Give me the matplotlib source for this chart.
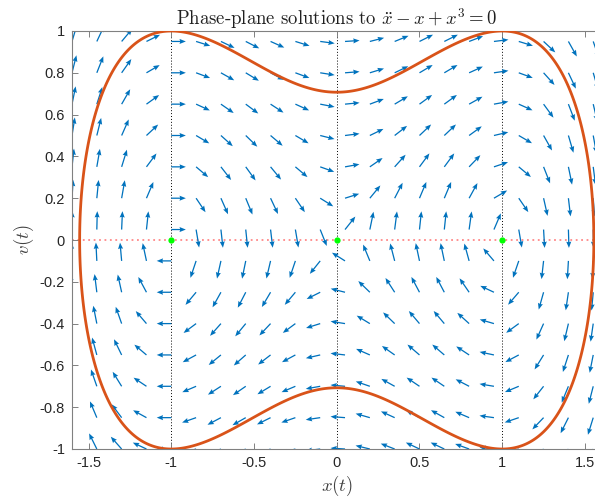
import matplotlib
matplotlib.use("Agg")
import matplotlib.pyplot as plt
import numpy as np

# grid of quiver tails (MATLAB style -1.6:0.15:1.6, -1:0.15:1)
X_GRID = [-1.6, -1.45, -1.3, -1.15, -1.0, -0.85, -0.7, -0.55, -0.4, -0.25, -0.1,
          0.05, 0.2, 0.35, 0.5, 0.65, 0.8, 0.95, 1.1, 1.25, 1.4, 1.55]
V_GRID = [-1.0, -0.85, -0.7, -0.55, -0.4, -0.25, -0.1,
          0.05, 0.2, 0.35, 0.5, 0.65, 0.8, 0.95]
EQUILIBRIA = [-1.0, 0.0, 1.0]
ENERGY_LEVEL = 0.25          # orbit through (0, +-0.707) and (+-1, +-1)
X_TICKS = [-1.5, -1.0, -0.5, 0.0, 0.5, 1.0, 1.5]
X_TICKLABELS = ["-1.5", "-1", "-0.5", "0", "0.5", "1", "1.5"]
Y_TICKS = [-1.0, -0.8, -0.6, -0.4, -0.2, 0.0, 0.2, 0.4, 0.6, 0.8, 1.0]
Y_TICKLABELS = ["-1", "-0.8", "-0.6", "-0.4", "-0.2", "0", "0.2", "0.4", "0.6", "0.8", "1"]

BLUE = "#0072BD"
ORANGE = "#D95319"

plt.rcParams["mathtext.fontset"] = "cm"
plt.rcParams["font.family"] = ["Liberation Sans", "DejaVu Sans"]


def field(x, v):
    # x'' - x + x^3 = 0  ->  x' = v, v' = x - x^3
    return v, x - x ** 3


def energy(x, v):
    return 0.5 * v ** 2 - 0.5 * x ** 2 + 0.25 * x ** 4


fig = plt.figure(figsize=(5.95, 4.98), dpi=100)
ax = fig.add_axes([72 / 595, 49 / 498, 529.5 / 595, 418 / 498])

xx, vv = np.meshgrid(np.array(X_GRID), np.array(V_GRID))
uu, ww = field(xx, vv)
mag = np.hypot(uu, ww)
mag[mag == 0] = 1.0
arrow_len = 0.088
ax.quiver(xx, vv, arrow_len * uu / mag, arrow_len * ww / mag,
          angles="xy", scale_units="xy", scale=1, color=BLUE,
          width=0.0024, headwidth=4, headlength=5, headaxislength=4.5,
          zorder=2)

# closed orbit of the energy level
cx = np.linspace(-1.65, 1.65, 900)
cv = np.linspace(-1.05, 1.05, 700)
cxx, cvv = np.meshgrid(cx, cv)
ax.contour(cxx, cvv, energy(cxx, cvv), levels=[ENERGY_LEVEL],
           colors=ORANGE, linewidths=2.0, zorder=4)

for xe in EQUILIBRIA:
    ax.axvline(xe, color="black", linestyle=(0, (1, 2)), linewidth=0.7, zorder=1)
ax.axhline(0, color="#ff6b6b", linestyle=(0, (1, 2)), linewidth=1.3, alpha=0.8, zorder=1)
ax.plot(EQUILIBRIA, [0, 0, 0], "o", color="#00ff00", markersize=4.5,
        markeredgewidth=0, zorder=5)

ax.set_xlim(-1.6, 1.6)
ax.set_ylim(-1, 1)
ax.set_xticks(X_TICKS, X_TICKLABELS)
ax.set_yticks(Y_TICKS, Y_TICKLABELS)
ax.tick_params(direction="in", top=True, right=True, length=4, width=0.7,
               color="#808080", labelsize=10.5, labelcolor="#262626", pad=5)
for spine in ax.spines.values():
    spine.set_color("#808080")
    spine.set_linewidth(0.8)

ax.set_xlabel("$x(t)$", fontsize=13.5, color="#404040", labelpad=3)
ax.set_ylabel("$v(t)$", fontsize=13.5, color="#404040", labelpad=3)
ax.set_title(r"Phase-plane solutions to $\ddot{x} - x + x^3 = 0$",
             fontsize=13.5, family="cmr10", color="#202020", pad=4)

fig.savefig("out.png", dpi=100)
